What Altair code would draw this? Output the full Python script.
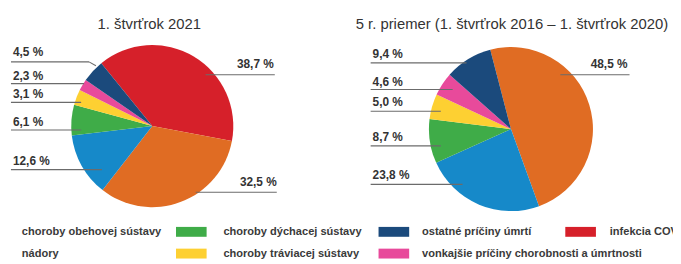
import math
import altair as alt
import pandas as pd

# ---------------- data ----------------
categories = [
    "infekcia COVID-19",
    "choroby obehovej sústavy",
    "nádory",
    "choroby dýchacej sústavy",
    "choroby tráviacej sústavy",
    "vonkajšie príčiny chorobnosti a úmrtnosti",
    "ostatné príčiny úmrtí",
]
colors = ["#d6202a", "#e06c23", "#1689c9", "#3fac48", "#fdd032", "#e84a9b", "#1b4a7c"]
share_q1_2021 = [38.7, 32.5, 12.6, 6.1, 3.1, 2.3, 4.5]
share_5y_avg = [None, 48.5, 23.8, 8.7, 5.0, 4.6, 9.4]
titles = ["1. štvrťrok 2021", "5 r. priemer (1. štvrťrok 2016 – 1. štvrťrok 2020)"]

# ---------------- layout (pixels) ----------------
pie_cx = [146, 509]
pie_cy = [118, 121]
pie_r = [82, 83]
pie_start_deg = [-39.0, -14.6]
title_x = [143, 510]
title_y = 15

# per category: text x, text y, align, line x start, line x end, line y
labels_left = [
    (269, 55, "right", 200, 270, 66),
    (272, 175, "right", 190, 272, 185),
    (5, 153, "left", 3, 95, 162),
    (5, 114, "left", 3, 74, 122),
    (5, 86, "left", 3, 74, 94),
    (5, 67, "left", 3, 77, 75),
    (5, 43, "left", 3, 82, 53),
]
extra_segments_left = [(82, 53, 89, 57)]
labels_right = [
    None,
    (627, 55, "right", 559, 629, 66),
    (369, 168, "left", 367, 460, 177),
    (369, 129, "left", 367, 438, 138),
    (369, 94, "left", 367, 438, 103),
    (369, 73, "left", 367, 450, 81),
    (369, 45, "left", 367, 464, 54),
]

legend_cells = {  # category index -> (column, row)
    1: (0, 0), 2: (0, 1),
    3: (1, 0), 4: (1, 1),
    6: (2, 0), 5: (2, 1),
    0: (3, 0),
}
legend_swatch_x = [-34, 170, 375, 564]
legend_text_x = [14, 218, 419, 609]
legend_row_y = [225, 247]
swatch_w, swatch_h = 31, 10

color_scale = alt.Scale(domain=categories, range=colors)
FONT = "Liberation Sans"


def fmt(v):
    return f"{v:.1f}".replace(".", ",") + " %"


def pie(values, k):
    rows = [
        {"category": c, "value": v, "order": i}
        for i, (c, v) in enumerate(zip(categories, values))
        if v is not None
    ]
    s = math.radians(pie_start_deg[k])
    return (
        alt.Chart(pd.DataFrame(rows))
        .mark_arc(radius=pie_r[k])
        .encode(
            theta=alt.Theta("value:Q", stack=True, scale=alt.Scale(range=[s, s + 2 * math.pi])),
            order=alt.Order("order:Q"),
            color=alt.Color("category:N", scale=color_scale, legend=None),
            x=alt.value(pie_cx[k]),
            y=alt.value(pie_cy[k]),
        )
    )


def label_layers(values, layout, extra):
    texts, segs = [], []
    for v, lay in zip(values, layout):
        if v is None or lay is None:
            continue
        tx, ty, al, lx1, lx2, ly = lay
        texts.append({"t": fmt(v), "x": tx, "y": ty, "align": al})
        segs.append({"x": lx1, "x2": lx2, "y": ly, "y2": ly})
    for (a, b, c, d) in extra:
        segs.append({"x": a, "x2": c, "y": b, "y2": d})
    tdf = pd.DataFrame(texts)
    sdf = pd.DataFrame(segs)
    rules = alt.Chart(sdf).mark_rule(color="#6b6b6b", strokeWidth=1.1).encode(
        x=alt.X("x:Q", scale=None, axis=None),
        x2="x2:Q",
        y=alt.Y("y:Q", scale=None, axis=None),
        y2="y2:Q",
    )
    out = [rules]
    for al in ["left", "right"]:
        sub = tdf[tdf["align"] == al]
        if len(sub):
            out.append(
                alt.Chart(sub).mark_text(
                    align=al, baseline="middle", font=FONT, fontSize=12,
                    fontWeight="bold", color="#333333",
                ).encode(
                    x=alt.X("x:Q", scale=None, axis=None),
                    y=alt.Y("y:Q", scale=None, axis=None),
                    text="t:N",
                )
            )
    return out


title_df = pd.DataFrame({"t": titles, "x": title_x, "y": [title_y, title_y]})
title_layer = alt.Chart(title_df).mark_text(
    align="center", baseline="middle", font=FONT, fontSize=15, color="#333333"
).encode(
    x=alt.X("x:Q", scale=None, axis=None),
    y=alt.Y("y:Q", scale=None, axis=None),
    text="t:N",
)

leg_rows = []
for idx, (col, row) in legend_cells.items():
    leg_rows.append({
        "category": categories[idx],
        "sx": legend_swatch_x[col],
        "sx2": legend_swatch_x[col] + swatch_w,
        "sy": legend_row_y[row] - swatch_h / 2,
        "sy2": legend_row_y[row] + swatch_h / 2,
        "tx": legend_text_x[col],
        "ty": legend_row_y[row],
    })
leg_df = pd.DataFrame(leg_rows)
legend_swatches = alt.Chart(leg_df).mark_rect().encode(
    x=alt.X("sx:Q", scale=None, axis=None),
    x2="sx2:Q",
    y=alt.Y("sy:Q", scale=None, axis=None),
    y2="sy2:Q",
    color=alt.Color("category:N", scale=color_scale, legend=None),
)
legend_texts = alt.Chart(leg_df).mark_text(
    align="left", baseline="middle", font=FONT, fontSize=11.2,
    fontWeight="bold", color="#3a3a3a",
).encode(
    x=alt.X("tx:Q", scale=None, axis=None),
    y=alt.Y("ty:Q", scale=None, axis=None),
    text="category:N",
)

layers = [pie(share_q1_2021, 0), pie(share_5y_avg, 1)]
layers += label_layers(share_q1_2021, labels_left, extra_segments_left)
layers += label_layers(share_5y_avg, labels_right, [])
layers += [title_layer, legend_swatches, legend_texts]

chart = (
    alt.layer(*layers)
    .resolve_scale(theta="independent")
    .properties(width=673, height=256, autosize=alt.AutoSizeParams(type="none"), padding=0)
    .configure_view(stroke="transparent")
)

chart.save("out.html", embed_options={"renderer": "svg", "actions": False})
